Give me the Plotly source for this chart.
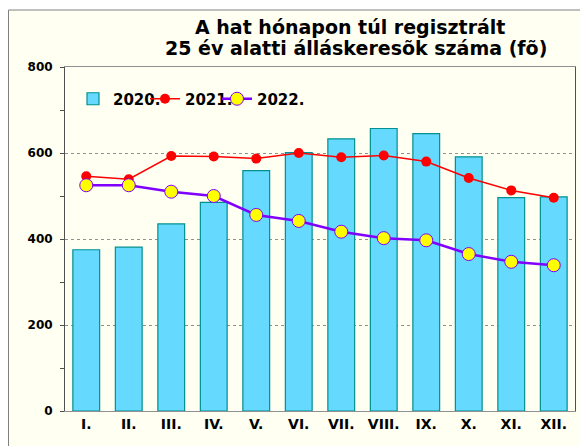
import plotly.graph_objects as go

months = ["I.", "II.", "III.", "IV.", "V.", "VI.", "VII.", "VIII.", "IX.", "X.", "XI.", "XII."]
y2020 = [375, 381, 435, 485, 559, 601, 633, 657, 645, 591, 496, 498]
y2021 = [546, 539, 593, 592, 587, 600, 590, 594, 580, 542, 513, 496]
y2022 = [525, 525, 510, 500, 456, 442, 417, 402, 397, 365, 347, 339]

title_line1 = "A hat hónapon túl regisztrált"
title_line2 = "25 év alatti álláskeresõk száma (fõ)"
ivory = "#FFFFF2"
font = "DejaVu Sans, Verdana, sans-serif"

W, H = 580, 438
L, R, T, B = 57, 13, 59, 35
pw, ph = W - L - R, H - T - B

fig = go.Figure()
fig.add_trace(go.Bar(
    x=months, y=y2020, name="<b>2020.</b>", legend="legend",
    marker=dict(color="#66D9FF", line=dict(color="#00908F", width=1.2)),
))
fig.add_trace(go.Scatter(
    x=months, y=y2021, name="<b>2021.</b>", mode="lines+markers", legend="legend2",
    line=dict(color="#FF0000", width=1.5),
    marker=dict(color="#FF0000", size=10, line=dict(color="#FF0000", width=0)),
))
fig.add_trace(go.Scatter(
    x=months, y=y2022, name="<b>2022.</b>", mode="lines+markers", legend="legend3",
    line=dict(color="#8000FF", width=2.5),
    marker=dict(color="#FFFF00", size=13, line=dict(color="#8000FF", width=1)),
))

fig.add_shape(type="rect", xref="paper", yref="paper",
              x0=-(L - 0.5) / pw, x1=(pw + R + 20) / pw,
              y0=-(B + 20) / ph, y1=(ph + T - 2) / ph,
              fillcolor=ivory, line=dict(color="#808080", width=1), layer="below")

fig.add_annotation(text="<b>" + title_line1 + "</b>", xref="paper", yref="paper",
                   x=0.559, y=1 + (T - 18.7) / ph, xanchor="center", yanchor="middle",
                   showarrow=False, font=dict(size=19, family=font, color="black"))
fig.add_annotation(text="<b>" + title_line2 + "</b>", xref="paper", yref="paper",
                   x=0.571, y=1 + (T - 40) / ph, xanchor="center", yanchor="middle",
                   showarrow=False, font=dict(size=19, family=font, color="black"))

def leg(xpix):
    return dict(orientation="h", x=(xpix - 40 - (L + 8)) / pw, y=0.955,
                xanchor="left", yanchor="top", bgcolor="rgba(0,0,0,0)",
                font=dict(size=15, family=font), itemwidth=30)

fig.update_layout(
    width=W, height=H,
    margin=dict(l=L, r=R, t=T, b=B, autoexpand=False),
    paper_bgcolor="white", plot_bgcolor=ivory,
    font=dict(family=font, color="black"),
    bargap=0.37,
    showlegend=True,
    legend=leg(113), legend2=leg(185), legend3=leg(257),
    xaxis=dict(range=[-0.5, 11.5], showline=True, linecolor="#909090", mirror=True, ticks="",
               tickfont=dict(size=14, family=font), showgrid=False,
               tickprefix="<b>", ticksuffix="</b>"),
    yaxis=dict(range=[0, 800], dtick=200, showline=True, linecolor="#505050", mirror=True,
               ticks="outside", ticklen=4, tickcolor="#505050",
               minor=dict(dtick=100, ticks="outside", ticklen=4, tickcolor="#505050", showgrid=False),
               showgrid=True, gridcolor="#909090", griddash="dot", gridwidth=1,
               tickfont=dict(size=12, family=font), tickprefix="<b>", ticksuffix="</b>",
               ticklabelstandoff=5, zeroline=False),
)

fig.write_html("out.html")
